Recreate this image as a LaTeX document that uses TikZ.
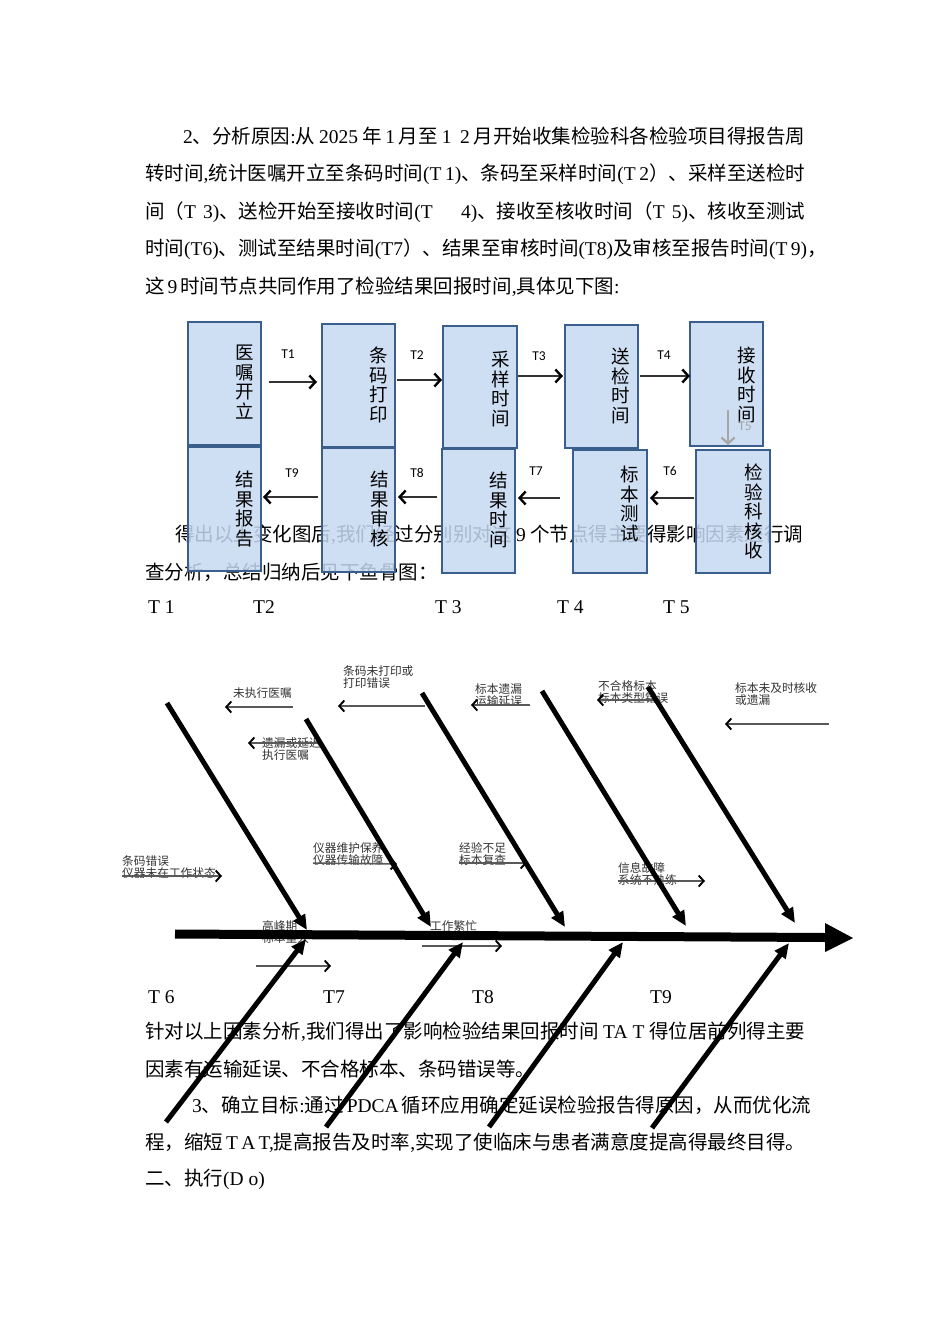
\documentclass[tikz,border=0pt]{standalone}
\usepackage{fontspec}
\setmainfont{Liberation Serif}
\newfontfamily\cjk{Noto Sans CJK SC}
\newfontfamily\calib{Carlito}
\usetikzlibrary{arrows.meta}
\XeTeXlinebreaklocale "zh"
\XeTeXlinebreakskip=0pt plus 2pt minus 0.6pt
\newcommand\E[1]{{\rmfamily #1}}
\definecolor{boxfill}{HTML}{C6D9F1}
\definecolor{boxline}{HTML}{3B5F8D}
\definecolor{lightarrow}{HTML}{A6A6A6}
\tikzset{
  body/.style={anchor=base west, inner sep=0pt, font=\cjk\fontsize{19.5}{19.5}\selectfont},
  box/.style={draw=boxline, line width=2pt, fill=boxfill, fill opacity=0.85, inner sep=0pt, outer sep=0pt, anchor=north west},
  boxlabel/.style={anchor=north, inner sep=0pt, align=center, font=\cjk\fontsize{18.5}{19.5}\selectfont},
  tlab/.style={inner sep=0pt, font=\calib\fontsize{13.5}{13.5}\selectfont},
  flow/.style={line width=1.3pt, draw=black!80, -{Straight Barb[length=6pt,width=13pt,line width=2.4pt,color=black]}},
  flowgrey/.style={line width=1.3pt, draw=lightarrow, -{Straight Barb[length=6pt,width=13pt,line width=2.2pt]}},
  tfish/.style={anchor=base west, inner sep=0pt, font=\rmfamily\fontsize{19.5}{19.5}\selectfont},
  bone/.style={line width=5pt, -{Triangle[length=15pt,width=13pt]}},
  clab/.style={anchor=north west, inner sep=0pt, align=left, font=\cjk\fontsize{11.7}{12}\selectfont, text=black!80},
  cause/.style={line width=1.5pt, draw=black!65, -{Straight Barb[length=5pt,width=11pt,line width=1.9pt,color=black]}}
}
\begin{document}
\begin{tikzpicture}[x=1pt,y=-1pt]
\useasboundingbox (0,0) rectangle (950,1344);
\fill[white] (0,0) rectangle (950,1344);

% ---------- paragraph 1 ----------
\node[body] (p1a) at (183,143) {\hbox to 622pt{\E{2}、分析原因\E{:}从 \E{2025} 年 \E{1} 月至 \E{1\ \ 2} 月开始收集检验科各检验项目得报告周}};
\node[body] (p1b) at (145,180) {\hbox to 660pt{转时间\E{,}统计医嘱开立至条码时间\E{(T\ 1)}、条码至采样时间\E{(T 2}）、采样至送检时}};
\node[body] (p1c) at (145,218) {\hbox to 660pt{间（\E{T 3)}、送检开始至接收时间\E{(T\ \ \ \ 4)}、接收至核收时间（\E{T\ 5)}、核收至测试}};
\node[body] (p1d) at (145,255) {\hbox to 667pt{时间\E{(T6)}、测试至结果时间\E{(T7}）、结果至审核时间\E{(T8)}及审核至报告时间\E{(T 9)}，}};
\node[body] (p1e) at (145,293) {\hbox to 465pt{这 \E{9} 时间节点共同作用了检验结果回报时间\E{,}具体见下图\E{:}}};

% ---------- paragraph 2 (behind the boxes) ----------
\node[body] (p2a) at (175,541) {\hbox to 628pt{得出以上变化图后\E{,}我们经过分别别对这 \E{9} 个节点得主要得影响因素进行调}};
\node[body] (p2b) at (145,579) {查分析，总结归纳后见下鱼骨图：};

% ---------- flow boxes ----------
\node[box, minimum width=73pt, minimum height=123pt] (b1) at (188,322) {};
\node[box, minimum width=73pt, minimum height=123pt] (b2) at (322,324) {};
\node[box, minimum width=74pt, minimum height=122pt] (b3) at (443,326) {};
\node[box, minimum width=73pt, minimum height=123pt] (b4) at (565,325) {};
\node[box, minimum width=73pt, minimum height=124pt] (b5) at (690,322) {};
\node[box, minimum width=74pt, minimum height=123pt] (b6) at (696,450) {};
\node[box, minimum width=74pt, minimum height=123pt] (b7) at (573,450) {};
\node[box, minimum width=73pt, minimum height=124pt] (b8) at (442,449) {};
\node[box, minimum width=73pt, minimum height=124pt] (b9) at (322,448) {};
\node[box, minimum width=73pt, minimum height=124pt] (b10) at (188,447) {};

\node[boxlabel] (l1) at (245,345) {医\\嘱\\开\\立};
\node[boxlabel] (l2) at (379,347) {条\\码\\打\\印};
\node[boxlabel] (l3) at (501,351) {采\\样\\时\\间};
\node[boxlabel] (l4) at (621,348) {送\\检\\时\\间};
\node[boxlabel] (l5) at (747,347) {接\\收\\时\\间};
\node[boxlabel] (l6) at (754,464) {检\\验\\科\\核\\收};
\node[boxlabel] (l7) at (630,466) {标\\本\\测\\试};
\node[boxlabel] (l8) at (499,472) {结\\果\\时\\间};
\node[boxlabel] (l9) at (380,471) {结\\果\\审\\核};
\node[boxlabel] (l10) at (245,471) {结\\果\\报\\告};

% flow arrows
\coordinate (t1s) at (269,382); \coordinate (t1e) at (317,382);
\coordinate (t2s) at (397,380); \coordinate (t2e) at (442,380);
\coordinate (t3s) at (518,376); \coordinate (t3e) at (563,376);
\coordinate (t4s) at (640,376); \coordinate (t4e) at (690,376);
\coordinate (t5s) at (728,410); \coordinate (t5e) at (728,445);
\coordinate (t6s) at (694,498); \coordinate (t6e) at (650,498);
\coordinate (t7s) at (560,498); \coordinate (t7e) at (518,498);
\coordinate (t8s) at (437,497); \coordinate (t8e) at (398,497);
\coordinate (t9s) at (318,497); \coordinate (t9e) at (263,497);
\draw[flow] (t1s) -- (t1e);
\draw[flow] (t2s) -- (t2e);
\draw[flow] (t3s) -- (t3e);
\draw[flow] (t4s) -- (t4e);
\draw[flowgrey] (t5s) -- (t5e);
\draw[flow] (t6s) -- (t6e);
\draw[flow] (t7s) -- (t7e);
\draw[flow] (t8s) -- (t8e);
\draw[flow] (t9s) -- (t9e);
\node[tlab] (tl1) at (288,354) {T1};
\node[tlab] (tl2) at (417,355) {T2};
\node[tlab] (tl3) at (539,356) {T3};
\node[tlab] (tl4) at (664,355) {T4};
\node[tlab, text=lightarrow] (tl5) at (745,426) {T5};
\node[tlab] (tl6) at (670,471) {T6};
\node[tlab] (tl7) at (536,471) {T7};
\node[tlab] (tl8) at (417,473) {T8};
\node[tlab] (tl9) at (292,473) {T9};

% ---------- fishbone T labels ----------
\node[tfish] (f1) at (148,613) {T 1};
\node[tfish] (f2) at (253,613) {T2};
\node[tfish] (f3) at (435,613) {T 3};
\node[tfish] (f4) at (557,613) {T 4};
\node[tfish] (f5) at (663,613) {T 5};
\node[tfish] (f6) at (148,1003) {T 6};
\node[tfish] (f7) at (323,1003) {T7};
\node[tfish] (f8) at (472,1003) {T8};
\node[tfish] (f9) at (650,1003) {T9};

% ---------- paragraph 3 (under the bones) ----------
\node[body] (p3a) at (145,1038) {\hbox to 660pt{针对以上因素分析\E{,}我们得出了影响检验结果回报时间 \E{TA T} 得位居前列得主要}};
\node[body] (p3b) at (145,1076) {因素有运输延误、不合格标本、条码错误等。};
\node[body] (p3c) at (192,1112) {\hbox to 608pt{\E{3}、确立目标\E{:}通过 \E{PDCA} 循环应用确定延误检验报告得原因，从而优化流}};
\node[body] (p3d) at (145,1149) {\hbox to 658pt{程，缩短 \E{T A T,}提高报告及时率\E{,}实现了使临床与患者满意度提高得最终目得。}};
\node[body] (p3e) at (145,1185) {二、执行\E{(D o)}};

% ---------- cause labels ----------
\node[clab] (c1) at (233,687) {未执行医嘱};
\node[clab] (c2) at (262,737) {遗漏或延迟\\执行医嘱};
\node[clab] (c3) at (343,665) {条码未打印或\\打印错误};
\node[clab] (c4) at (475,683) {标本遗漏\\运输延误};
\node[clab] (c5) at (598,680) {不合格标本\\标本类型错误};
\node[clab] (c6) at (735,682) {标本未及时核收\\或遗漏};
\node[clab] (c7) at (122,855) {条码错误\\仪器未在工作状态};
\node[clab] (c8) at (313,842) {仪器维护保养\\仪器传输故障};
\node[clab] (c9) at (459,842) {经验不足\\标本复查};
\node[clab] (c10) at (618,862) {信息故障\\系统不熟练};
\node[clab] (c11) at (262,920) {高峰期\\标本量大};
\node[clab] (c12) at (430,920) {工作繁忙};

% cause arrows
\coordinate (a1s) at (293,707); \coordinate (a1e) at (225,707);
\coordinate (a2s) at (323,743); \coordinate (a2e) at (248,743);
\coordinate (a3s) at (425,706); \coordinate (a3e) at (338,706);
\coordinate (a4s) at (530,705); \coordinate (a4e) at (471,705);
\coordinate (a5s) at (655,700); \coordinate (a5e) at (597,700);
\coordinate (a6s) at (829,724); \coordinate (a6e) at (725,724);
\coordinate (a7s) at (122,876); \coordinate (a7e) at (222,876);
\coordinate (a8s) at (313,863); \coordinate (a8e) at (397,864);
\coordinate (a9s) at (459,863); \coordinate (a9e) at (527,863);
\coordinate (a10s) at (618,881); \coordinate (a10e) at (705,881);
\coordinate (a11s) at (256,966); \coordinate (a11e) at (331,966);
\coordinate (a12s) at (422,946); \coordinate (a12e) at (502,946);
\foreach \i in {1,...,12} { \draw[cause] (a\i s) -- (a\i e); }

% ---------- spine ----------
\coordinate (sp0) at (175,934);
\coordinate (sp1) at (826,937.5);
\coordinate (sptip) at (853,938);
\draw[line width=9pt] (sp0) -- (sp1);
\fill (825,923) -- (sptip) -- (825,952) -- cycle;

% ---------- bones ----------
\coordinate (uA) at (167,703); \coordinate (uAe) at (307,930);
\coordinate (uB) at (306,719); \coordinate (uBe) at (431,927);
\coordinate (uC) at (422,693); \coordinate (uCe) at (565,927);
\coordinate (uD) at (542,691); \coordinate (uDe) at (686,926);
\coordinate (uE) at (648,687); \coordinate (uEe) at (795,923);
\coordinate (dF) at (166,1122); \coordinate (dFe) at (306,939);
\coordinate (dG) at (326,1127); \coordinate (dGe) at (463,942);
\coordinate (dH) at (489,1127); \coordinate (dHe) at (623,942);
\coordinate (dI) at (652,1128); \coordinate (dIe) at (789,943);
\draw[bone] (uA) -- (uAe);
\draw[bone] (uB) -- (uBe);
\draw[bone] (uC) -- (uCe);
\draw[bone] (uD) -- (uDe);
\draw[bone] (uE) -- (uEe);
\draw[bone] (dF) -- (dFe);
\draw[bone] (dG) -- (dGe);
\draw[bone] (dH) -- (dHe);
\draw[bone] (dI) -- (dIe);
\end{tikzpicture}
\end{document}
